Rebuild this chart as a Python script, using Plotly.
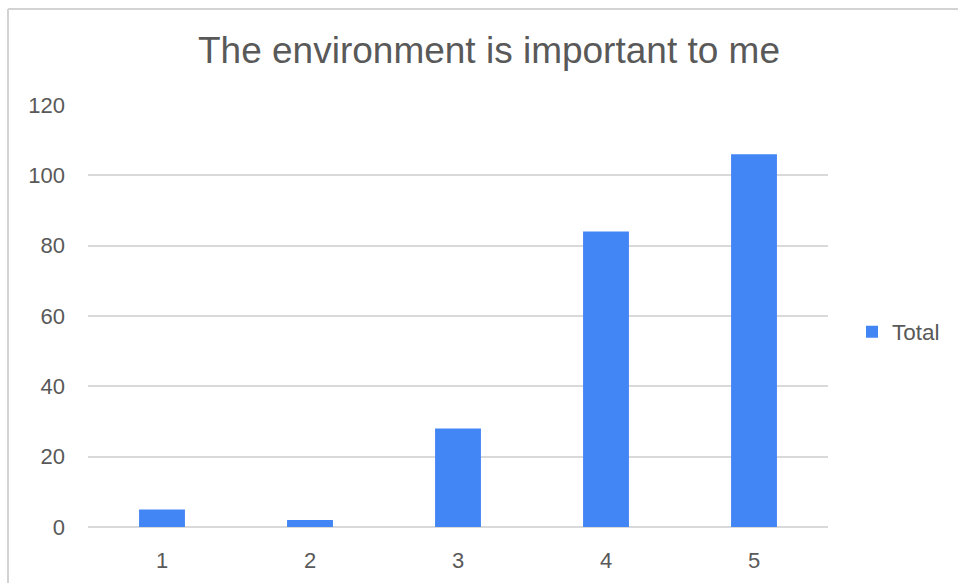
import plotly.graph_objects as go

categories = ["1", "2", "3", "4", "5"]
totals = [5, 2, 28, 84, 106]
y_ticks = [0, 20, 40, 60, 80, 100, 120]

L, R, T, B = 88, 130, 105, 56
W, H = 958, 583
pw, ph = W - L - R, H - T - B

def px(x):
    return (x - L) / pw

def py(y):
    return (H - B - y) / ph

fig = go.Figure()
fig.add_trace(go.Bar(
    x=categories, y=totals, name="Total",
    marker=dict(color="#4285F4", line=dict(width=0)),
    showlegend=True,
))

fig.update_layout(
    width=W, height=H,
    margin=dict(l=L, r=R, t=T, b=B, autoexpand=False),
    paper_bgcolor="white", plot_bgcolor="white",
    font=dict(family="Liberation Sans, Arial, sans-serif", color="#595959", size=22),
    title=dict(text="The environment is important to me", x=489 / W, xanchor="center",
               y=1 - 50 / H, yanchor="middle", font=dict(size=37, color="#595959")),
    bargap=0.69,
    showlegend=True,
    legend=dict(x=px(852), y=py(332), xanchor="left", yanchor="middle",
                font=dict(size=22.5, color="#595959"), itemwidth=30, bgcolor="rgba(0,0,0,0)"),
    xaxis=dict(type="category", showgrid=False, showline=False, zeroline=False,
               ticks="", ticklabelstandoff=18, tickfont=dict(size=22)),
    yaxis=dict(range=[0, 120], tickvals=y_ticks, showgrid=True, gridcolor="#d9d9d9",
               gridwidth=1.5, zeroline=True, zerolinecolor="#d9d9d9", zerolinewidth=1.5,
               showline=False, ticks="", ticklabelstandoff=22, tickfont=dict(size=22)),
    shapes=[
        dict(type="line", xref="paper", yref="paper", x0=px(8), x1=px(W + 5), y0=py(9), y1=py(9),
             line=dict(color="#d3d3d3", width=2)),
        dict(type="line", xref="paper", yref="paper", x0=px(8), x1=px(8), y0=py(9), y1=py(H + 5),
             line=dict(color="#d3d3d3", width=2)),
    ],
)

fig.write_html("out.html")
